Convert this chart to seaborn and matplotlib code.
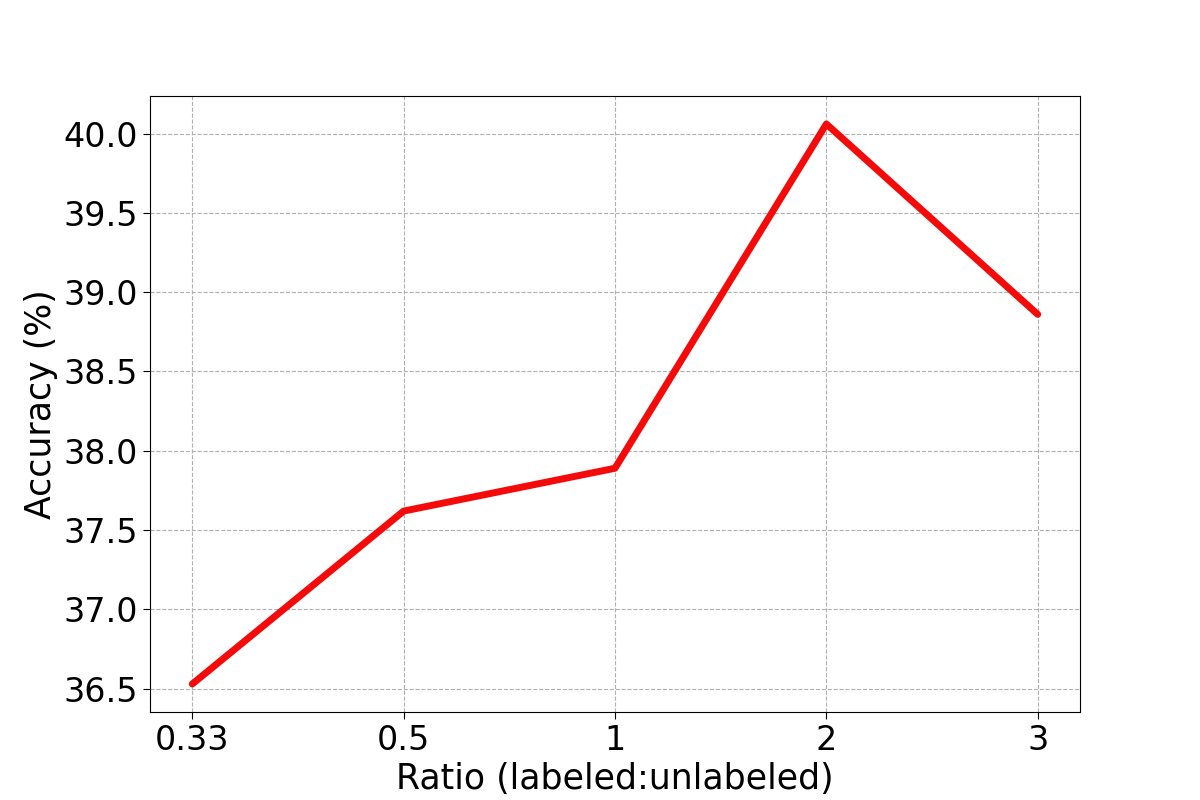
import pandas as pd
import matplotlib
matplotlib.use("Agg")
import matplotlib.pyplot as plt
import seaborn as sns

ratios = ["0.33", "0.5", "1", "2", "3"]
accuracy = [36.53, 37.62, 37.89, 40.06, 38.86]

df = pd.DataFrame({"pos": range(len(ratios)), "acc": accuracy})

sns.set_style("white")
plt.rcParams['font.family'] = ['DejaVu Sans']
plt.rcParams['text.color'] = 'black'
plt.rcParams['axes.labelcolor'] = 'black'
plt.rcParams['xtick.color'] = 'black'
plt.rcParams['ytick.color'] = 'black'

fig, ax = plt.subplots(figsize=(12, 8), dpi=100)
sns.lineplot(data=df, x="pos", y="acc", color="#f50a0a", linewidth=5, ax=ax)

ax.set_xticks(range(len(ratios)))
ax.set_xticklabels(ratios)
ax.tick_params(axis="both", labelsize=24, length=5, bottom=True, left=True)
ax.set_xlabel("Ratio (labeled:unlabeled)", fontsize=25)
ax.set_ylabel("Accuracy (%)", fontsize=25)
ax.grid(True, linestyle="--", color="#b0b0b0", linewidth=0.8)
for s in ax.spines.values():
    s.set_color("black")
    s.set_linewidth(0.8)

plt.savefig("out.png", dpi=100)
